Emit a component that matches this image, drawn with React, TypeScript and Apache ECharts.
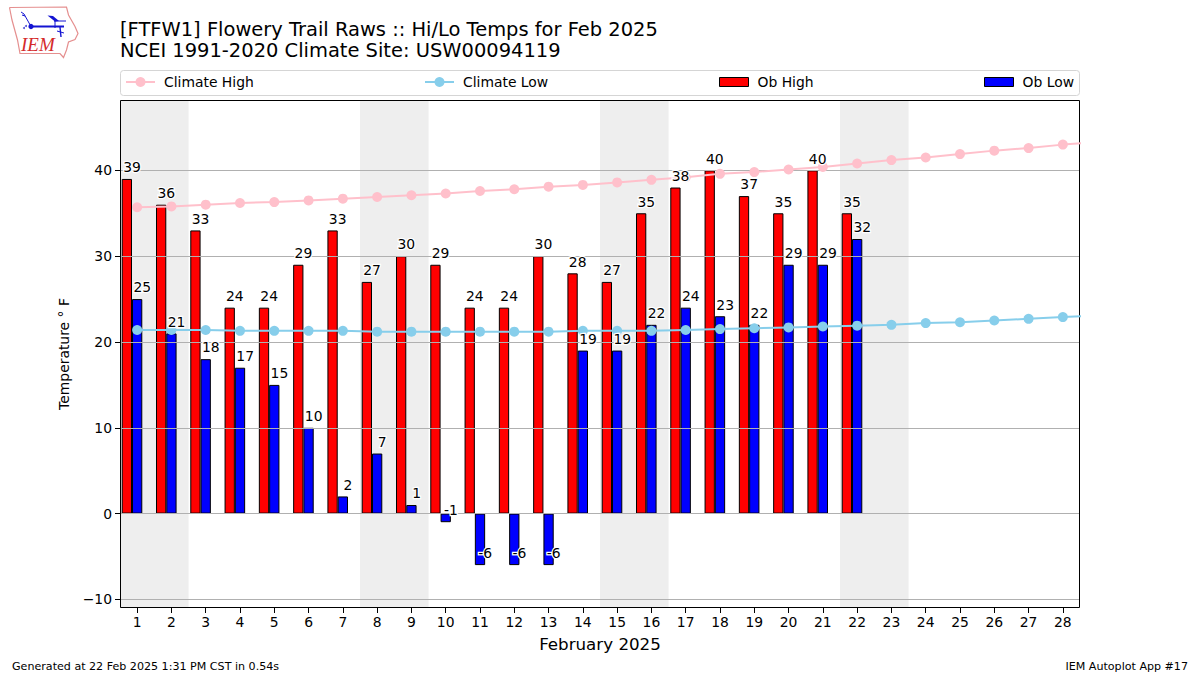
import React, { useEffect, useRef } from "react";
import * as echarts from "echarts";

const FONT = "DejaVu Sans";
const TITLE = "[FTFW1] Flowery Trail Raws :: Hi/Lo Temps for Feb 2025\nNCEI 1991-2020 Climate Site: USW00094119";
const FOOT_LEFT = "Generated at 22 Feb 2025 1:31 PM CST in 0.54s";
const FOOT_RIGHT = "IEM Autoplot App #17";
const days = Array.from({ length: 28 }, (_, i) => String(i + 1));
const obHigh = [39, 36, 33, 24, 24, 29, 33, 27, 30, 29, 24, 24, 30, 28, 27, 35, 38, 40, 37, 35, 40, 35];
const obLow = [25, 21, 18, 17, 15, 10, 2, 7, 1, -1, -6, -6, -6, 19, 19, 22, 24, 23, 22, 29, 29, 32];
// The climate lines run on to 1 March (day 29), past the clipped edge of the plot.
const climateHigh = [35.7, 35.8, 36.0, 36.2, 36.3, 36.5, 36.7, 36.9, 37.1, 37.3, 37.6, 37.8, 38.1, 38.3, 38.6, 38.9, 39.2, 39.6, 39.8, 40.1, 40.4, 40.8, 41.2, 41.5, 41.9, 42.3, 42.6, 43.0, 43.3];
const climateLow = [21.4, 21.4, 21.4, 21.3, 21.3, 21.3, 21.3, 21.2, 21.2, 21.2, 21.2, 21.2, 21.2, 21.3, 21.3, 21.3, 21.4, 21.5, 21.6, 21.7, 21.8, 21.9, 22.0, 22.2, 22.3, 22.5, 22.7, 22.9, 23.1];
const weekends = [[0.5, 2.5], [7.5, 9.5], [14.5, 16.5], [21.5, 23.5]];
const yTicks = [-10, 0, 10, 20, 30, 40];

const RED_LABEL_OFFSET = -0.15;
const BLUE_LABEL_OFFSET = 0.15;
const LABEL_LIFT = 0.55;

const toXY = (vals: number[]) => vals.map((v, i) => [i + 1, v]);
const labelData = [
  ...obHigh.map((v, i) => [i + 1 + RED_LABEL_OFFSET, v]),
  ...obLow.map((v, i) => [i + 1 + BLUE_LABEL_OFFSET, v]),
];

const outline = [[9.5, 7.5], [66.5, 7], [68.5, 15], [75, 26.5], [78, 33.5], [75, 39.5], [68.5, 42], [66.5, 50], [63.5, 57.5], [60, 53.5], [20, 53.5], [17.5, 40], [12, 20], [9.5, 7.5]];

export default function App() {
  const ref = useRef<HTMLDivElement>(null);
  useEffect(() => {
    const chart = echarts.init(ref.current!, undefined, { renderer: "svg" });
    const lineSeries = (name: string, color: string, vals: number[]) => ({
      type: "line", name, data: toXY(vals), xAxisIndex: 1, yAxisIndex: 0, z: 5,
      symbol: "circle", symbolSize: 10, showSymbol: true, clip: true, silent: true,
      lineStyle: { color, width: 2 }, itemStyle: { color },
    });
    const barSeries = (name: string, color: string, vals: number[]) => ({
      type: "bar", name, data: vals, barWidth: "30%", barGap: 0, z: 2, silent: true,
      itemStyle: { color, borderColor: "#000", borderWidth: 1 },
    });
    const legendItem = (name: string, left: number, isBar: boolean) => ({
      data: [name], left, top: 75, orient: "horizontal", selectedMode: false,
      itemWidth: 29, itemHeight: isBar ? 9 : 12.5, padding: 0, z: 7,
      ...(isBar ? { icon: "rect", itemStyle: { borderWidth: 1, borderColor: "#000" } } : {}),
      textStyle: { fontFamily: FONT, fontSize: 13.9, color: "#000", padding: [0, 0, 0, 4] },
    });
    chart.setOption({
      animation: false,
      backgroundColor: "#fff",
      textStyle: { fontFamily: FONT },
      title: {
        text: TITLE, left: 120, top: 19, padding: 0,
        textStyle: { fontFamily: FONT, fontSize: 19.47, fontWeight: "normal", color: "#000", lineHeight: 21 },
      },
      legend: [
        legendItem("Climate High", 125, false),
        legendItem("Climate Low", 424, false),
        legendItem("Ob High", 719, true),
        legendItem("Ob Low", 984, true),
      ],
      grid: { left: 120, top: 100, width: 960, height: 508, containLabel: false },
      xAxis: [
        {
          type: "category", data: days, boundaryGap: true, position: "bottom",
          name: "February 2025", nameLocation: "middle", nameGap: 27,
          nameTextStyle: { fontFamily: FONT, fontSize: 16.7, color: "#000" },
          axisLine: { show: false, onZero: false },
          axisTick: { show: true, alignWithLabel: true, length: 5, lineStyle: { color: "#000" } },
          axisLabel: { interval: 0, fontFamily: FONT, fontSize: 13.9, color: "#000", margin: 7 },
          splitLine: { show: false },
        },
        { type: "value", min: 0.5, max: 28.5, show: false, splitLine: { show: false }, axisLine: { onZero: false } },
      ],
      yAxis: {
        type: "value", min: -11, max: 48.2, z: 3,
        name: "Temperature ° F", nameLocation: "middle", nameGap: 49,
        nameTextStyle: { fontFamily: FONT, fontSize: 13.9, color: "#000" },
        axisLine: { show: false },
        axisTick: { show: true, length: 5, lineStyle: { color: "#000" }, customValues: yTicks },
        axisLabel: {
          fontFamily: FONT, fontSize: 13.9, color: "#000", margin: 8, customValues: yTicks,
          formatter: (v: number) => (v < 0 ? "\u2212" + Math.abs(v) : String(v)),
        },
        splitLine: { show: true, lineStyle: { color: "#b0b0b0", width: 1, type: "solid" } },
      },
      series: [
        {
          type: "custom", name: "Weekend", xAxisIndex: 1, yAxisIndex: 0, z: 1, silent: true,
          data: weekends,
          renderItem: (params: any, api: any) => {
            const a = api.coord([api.value(0), 0]);
            const b = api.coord([api.value(1), 0]);
            const cs = params.coordSys;
            return { type: "rect", shape: { x: a[0], y: cs.y, width: b[0] - a[0], height: cs.height }, style: { fill: "#eeeeee" } };
          },
        },
        barSeries("Ob High", "#ff0000", obHigh),
        barSeries("Ob Low", "#0000ff", obLow),
        { type: "bar", name: "spacer", data: [], barWidth: "30%", barGap: 0, silent: true },
        lineSeries("Climate High", "#ffc0cb", climateHigh),
        lineSeries("Climate Low", "#87ceeb", climateLow),
        {
          type: "custom", name: "Labels", xAxisIndex: 1, yAxisIndex: 0, z: 6, silent: true,
          data: labelData,
          clip: false,
          renderItem: (_: any, api: any) => {
            const p = api.coord([api.value(0), api.value(1) + LABEL_LIFT]);
            return {
              type: "text", x: p[0], y: p[1],
              style: {
                text: String(api.value(1)), fontFamily: FONT, fontSize: 13.9, fill: "#000",
                stroke: "#fff", lineWidth: 2.5, align: "center", verticalAlign: "bottom",
              },
            };
          },
        },
      ],
      graphic: [
        { type: "rect", z: 4, silent: true, shape: { x: 120.5, y: 100.5, width: 959, height: 507 }, style: { fill: "none", stroke: "#000", lineWidth: 1 } },
        { type: "rect", z: 0, silent: true, shape: { x: 120.5, y: 70.5, width: 959, height: 25, r: 3 }, style: { fill: "#fff", stroke: "#d5d5d5", lineWidth: 1 } },
        { type: "text", silent: true, x: 12, y: 661, style: { text: FOOT_LEFT, fontFamily: FONT, fontSize: 11.1, fill: "#000" } },
        { type: "text", silent: true, x: 1188, y: 661, style: { text: FOOT_RIGHT, fontFamily: FONT, fontSize: 11.1, fill: "#000", align: "right" } },
        {
          type: "group", silent: true, children: [
            { type: "polyline", shape: { points: outline }, style: { fill: "#fff", stroke: "#e58f8f", lineWidth: 1.2 } },
            { type: "line", shape: { x1: 31, y1: 26.5, x2: 64, y2: 26.5 }, style: { stroke: "#1414d2", lineWidth: 2 } },
            { type: "line", shape: { x1: 31, y1: 26.5, x2: 24, y2: 14 }, style: { stroke: "#1414d2", lineWidth: 1 } },
            { type: "line", shape: { x1: 24, y1: 14, x2: 21, y2: 12 }, style: { stroke: "#1414d2", lineWidth: 1 } },
            { type: "line", shape: { x1: 25, y1: 16, x2: 22, y2: 15 }, style: { stroke: "#1414d2", lineWidth: 1 } },
            { type: "circle", shape: { cx: 31, cy: 26.5, r: 2.6 }, style: { fill: "#1414d2" } },
            { type: "circle", shape: { cx: 24, cy: 28, r: 1 }, style: { fill: "#5050d8" } },
            { type: "circle", shape: { cx: 26, cy: 26, r: 1 }, style: { fill: "#5050d8" } },
            { type: "polygon", shape: { points: [[47.5, 15.5], [53, 16], [59, 21], [55, 21.5]] }, style: { fill: "#1414d2" } },
            { type: "line", shape: { x1: 54, y1: 21, x2: 66, y2: 21 }, style: { stroke: "#1414d2", lineWidth: 1 } },
            { type: "line", shape: { x1: 55, y1: 21, x2: 55, y2: 28 }, style: { stroke: "#1414d2", lineWidth: 1 } },
            { type: "line", shape: { x1: 60, y1: 27, x2: 61, y2: 37 }, style: { stroke: "#1414d2", lineWidth: 1.4 } },
            { type: "line", shape: { x1: 57, y1: 31, x2: 64, y2: 33 }, style: { stroke: "#1414d2", lineWidth: 1 } },
            { type: "text", x: 21, y: 54, style: { text: "IEM", fontFamily: "Liberation Serif", fontStyle: "italic", fontSize: 19, fill: "#d42a2a", verticalAlign: "bottom" } },
          ],
        },
      ],
    });
    return () => chart.dispose();
  }, []);
  return <div ref={ref} style={{ position: "absolute", left: 0, top: 0, width: 1200, height: 675 }} />;
}
